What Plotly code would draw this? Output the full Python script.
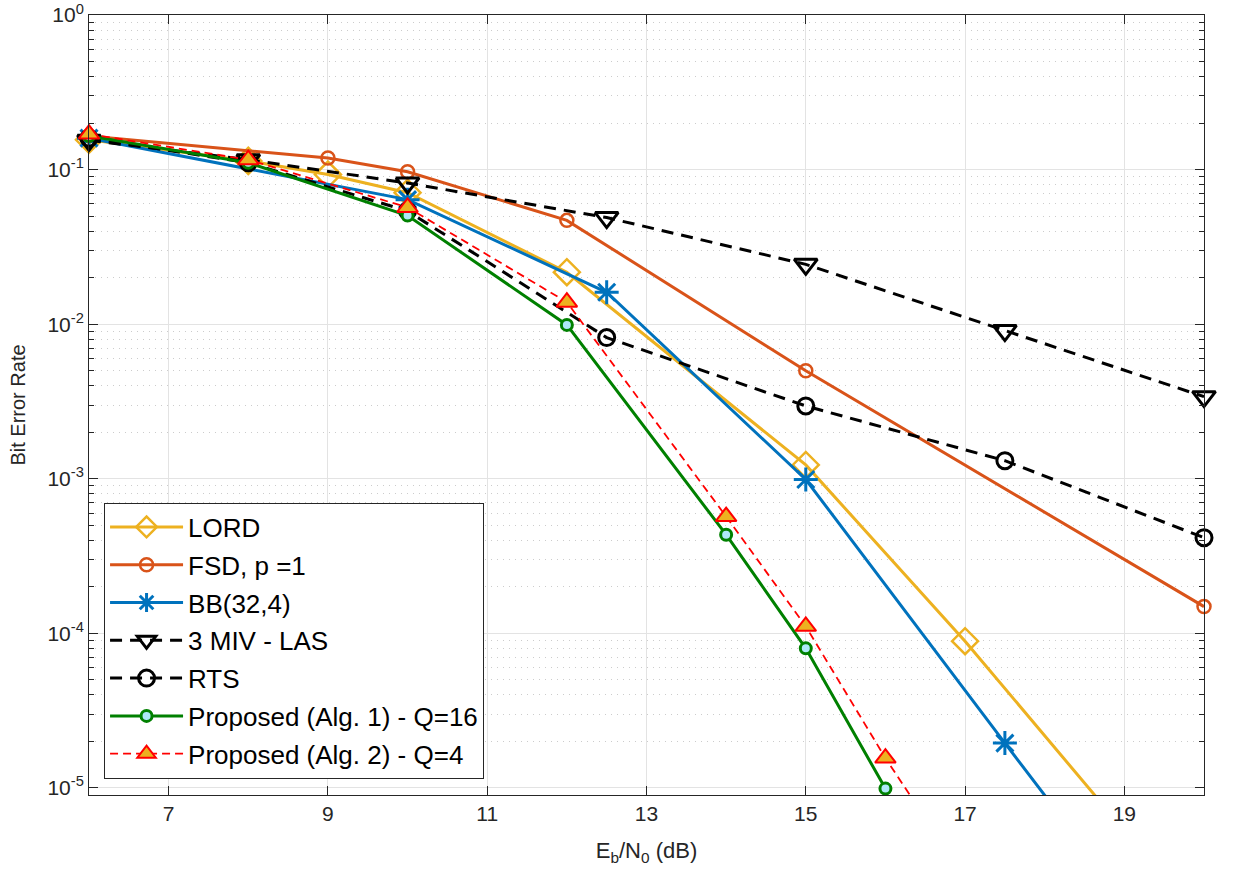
import plotly.graph_objects as go
import math

# ---------------- data ----------------
x_lord = [6, 8, 9, 10, 12, 15, 17, 20]
y_lord = [0.156, 0.114, 0.093, 0.071, 0.0217, 1.23e-3, 8.9e-5, 1.3e-6]

x_fsd = [6, 9, 10, 12, 15, 20]
y_fsd = [0.165, 0.119, 0.097, 0.047, 5.0e-3, 1.49e-4]

x_bb = [6, 10, 12.5, 15, 17.5, 20]
y_bb = [0.16, 0.064, 0.0161, 9.9e-4, 1.95e-5, 4e-7]

x_las = [6, 8, 10, 12.5, 15, 17.5, 20]
y_las = [0.155, 0.116, 0.082, 0.049, 0.0244, 9.1e-3, 3.4e-3]

x_rts = [6, 8, 10, 12.5, 15, 17.5, 20]
y_rts = [0.16, 0.111, 0.054, 8.2e-3, 2.96e-3, 1.31e-3, 4.16e-4]

x_alg1 = [6, 8, 10, 12, 14, 15, 16]
y_alg1 = [0.165, 0.111, 0.0505, 9.9e-3, 4.35e-4, 8.0e-5, 9.9e-6]

x_alg2 = [6, 8, 10, 12, 14, 15, 16, 17]
y_alg2 = [0.17, 0.116, 0.057, 0.0139, 5.7e-4, 1.11e-4, 1.56e-5, 2.6e-6]

names = ["LORD", "FSD, p =1", "BB(32,4)", "3 MIV - LAS", "RTS",
         "Proposed (Alg. 1) - Q=16", "Proposed (Alg. 2) - Q=4"]

x_ticks = [7, 9, 11, 13, 15, 17, 19]
y_ticks = [1e-5, 1e-4, 1e-3, 1e-2, 1e-1, 1]
y_ticktext = ["10<sup>-5</sup>", "10<sup>-4</sup>", "10<sup>-3</sup>",
              "10<sup>-2</sup>", "10<sup>-1</sup>", "10<sup>0</sup>"]
y_minor = [m * 10 ** e for e in range(-5, 0) for m in range(2, 10)] + [9e-6]

X_MIN, X_MAX = 6, 20
Y_MIN, Y_MAX = 9e-6, 1.0

FONT = "Liberation Sans, Arial, sans-serif"
AX = "#262626"

styles = [
    dict(line=dict(color="#EDB120", width=3),
         marker=dict(symbol="diamond-open", size=20, color="#EDB120",
                     line=dict(color="#EDB120", width=2.5))),
    dict(line=dict(color="#D95319", width=3),
         marker=dict(symbol="circle-open", size=13, color="#D95319",
                     line=dict(color="#D95319", width=2.5))),
    dict(line=dict(color="#0072BD", width=3),
         marker=dict(symbol="asterisk-open", size=20, color="#0072BD",
                     line=dict(color="#0072BD", width=3))),
    dict(line=dict(color="black", width=3, dash="12px,8px"),
         marker=dict(symbol="triangle-down-open", size=20, color="black",
                     line=dict(color="black", width=3))),
    dict(line=dict(color="black", width=3, dash="12px,8px"),
         marker=dict(symbol="circle-open", size=16, color="black",
                     line=dict(color="black", width=3))),
    dict(line=dict(color="#008000", width=3),
         marker=dict(symbol="circle", size=11, color="#aee9f8",
                     line=dict(color="#008000", width=3))),
    dict(line=dict(color="#FF0000", width=1.8, dash="8px,5px"),
         marker=dict(symbol="triangle-up", size=18, color="#EDB120",
                     line=dict(color="#FF0000", width=2))),
]

series = [(x_lord, y_lord), (x_fsd, y_fsd), (x_bb, y_bb), (x_las, y_las),
          (x_rts, y_rts), (x_alg1, y_alg1), (x_alg2, y_alg2)]

fig = go.Figure()
for i, ((xs, ys), name, st) in enumerate(zip(series, names, styles)):
    # full line (clipped to the axes)
    fig.add_trace(go.Scatter(x=xs, y=ys, mode="lines", line=st["line"],
                             showlegend=False, hoverinfo="skip"))
    # markers that are inside the axes, not clipped at the edges
    xin = [x for x, y in zip(xs, ys) if Y_MIN <= y <= Y_MAX]
    yin = [y for x, y in zip(xs, ys) if Y_MIN <= y <= Y_MAX]
    fig.add_trace(go.Scatter(x=xin, y=yin, mode="markers", marker=st["marker"],
                             cliponaxis=False, showlegend=False))
    # legend entry
    fig.add_trace(go.Scatter(x=[None], y=[None], mode="lines+markers",
                             line=st["line"], marker=st["marker"], name=name,
                             legendgroup=f"g{i}", showlegend=True))

fig.update_layout(
    width=1233, height=878,
    margin=dict(l=89, r=29, t=15, b=83, autoexpand=False),
    paper_bgcolor="white", plot_bgcolor="white",
    font=dict(family=FONT, size=21, color=AX),
    showlegend=True,
    legend=dict(x=0.0135, y=0.375, xanchor="left", yanchor="top",
                bgcolor="white", bordercolor=AX, borderwidth=1,
                font=dict(size=26, color="black", family=FONT),
                traceorder="grouped", tracegroupgap=1, itemwidth=73),
)

fig.update_xaxes(
    range=[X_MIN, X_MAX], tickmode="array", tickvals=x_ticks,
    automargin=False,
    ticks="inside", ticklen=9, tickcolor=AX, tickwidth=1,
    showline=True, linecolor=AX, linewidth=1, mirror="allticks",
    showgrid=True, gridcolor="#e3e3e3", gridwidth=1, zeroline=False,
    tickfont=dict(size=21, color=AX),
    title=dict(text="E<sub>b</sub>/N<sub>0</sub> (dB)", font=dict(size=22, color=AX),
               standoff=18),
)
fig.update_yaxes(
    type="log", range=[math.log10(Y_MIN), math.log10(Y_MAX) + 0.0008],
    tickmode="array", tickvals=y_ticks, ticktext=y_ticktext,
    ticklabeloverflow="allow", automargin=False,
    ticks="inside", ticklen=9, tickcolor=AX, tickwidth=1,
    showline=True, linecolor=AX, linewidth=1, mirror="allticks",
    showgrid=True, gridcolor="#e3e3e3", gridwidth=1, zeroline=False,
    tickfont=dict(size=21, color=AX),
    minor=dict(tickmode="array", tickvals=y_minor, ticks="inside", ticklen=5,
               tickcolor=AX, showgrid=True, gridcolor="#cccccc",
               griddash="1px,5px", gridwidth=1),
    title=dict(text="Bit Error Rate", font=dict(size=20, color=AX), standoff=16),
)

fig.write_html("out.html")
